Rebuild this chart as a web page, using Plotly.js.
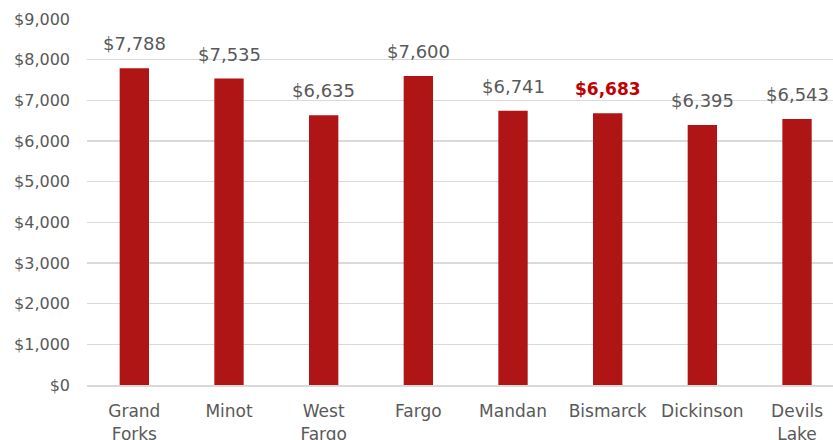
<!DOCTYPE html>
<html>
<head>
<meta charset="utf-8">
<script src="https://cdn.plot.ly/plotly-3.0.1.min.js"></script>
<style>html,body{margin:0;padding:0;background:#fff;}#chart{width:833px;height:440px;}</style>
</head>
<body>
<div id="chart"></div>
<script>
const cities = ["Grand Forks", "Minot", "West Fargo", "Fargo", "Mandan", "Bismarck", "Dickinson", "Devils Lake"];
const tickLabels = ["Grand<br>Forks", "Minot", "West<br>Fargo", "Fargo", "Mandan", "Bismarck", "Dickinson", "Devils<br>Lake"];
const values = [7788, 7535, 6635, 7600, 6741, 6683, 6395, 6543];
const highlight = "Bismarck";

const fmt = v => "$" + v.toLocaleString("en-US");

const trace = {
  type: "bar",
  x: cities,
  y: values,
  width: 0.31,
  marker: {color: "#B01515"},
  hoverinfo: "skip"
};

const annotations = cities.map((c, i) => ({
  x: c, y: values[i], xref: "x", yref: "y",
  text: c === highlight ? "<b>" + fmt(values[i]) + "</b>" : fmt(values[i]),
  showarrow: false, yanchor: "bottom", yshift: 12,
  font: c === highlight ? {family: "DejaVu Sans", size: 17, color: "#C00000"} : {family: "DejaVu Sans", size: 18, color: "#595959"}
}));

const layout = {
  width: 833, height: 440,
  margin: {l: 87, r: 0, t: 19, b: 55, pad: 0},
  paper_bgcolor: "#fff", plot_bgcolor: "#fff",
  showlegend: false,
  font: {family: "DejaVu Sans", color: "#595959"},
  xaxis: {
    type: "category",
    tickvals: cities, ticktext: tickLabels,
    range: [-0.5, 7.38],
    showgrid: false, zeroline: false,
    showline: true, linecolor: "#D9D9D9", linewidth: 2,
    ticks: "", ticklabelstandoff: 10,
    tickfont: {family: "DejaVu Sans", size: 17, color: "#595959"}
  },
  yaxis: {
    range: [0, 9000], dtick: 1000, tick0: 0,
    tickformat: "$,.0f",
    showgrid: true, gridcolor: "#D9D9D9", gridwidth: 1.5,
    zeroline: false, showline: false, ticks: "",
    ticklabelstandoff: 16,
    tickfont: {family: "DejaVu Sans", size: 16, color: "#595959"}
  },
  annotations: annotations
};

Plotly.newPlot("chart", [trace], layout, {displayModeBar: false, staticPlot: true});
</script>
</body>
</html>
